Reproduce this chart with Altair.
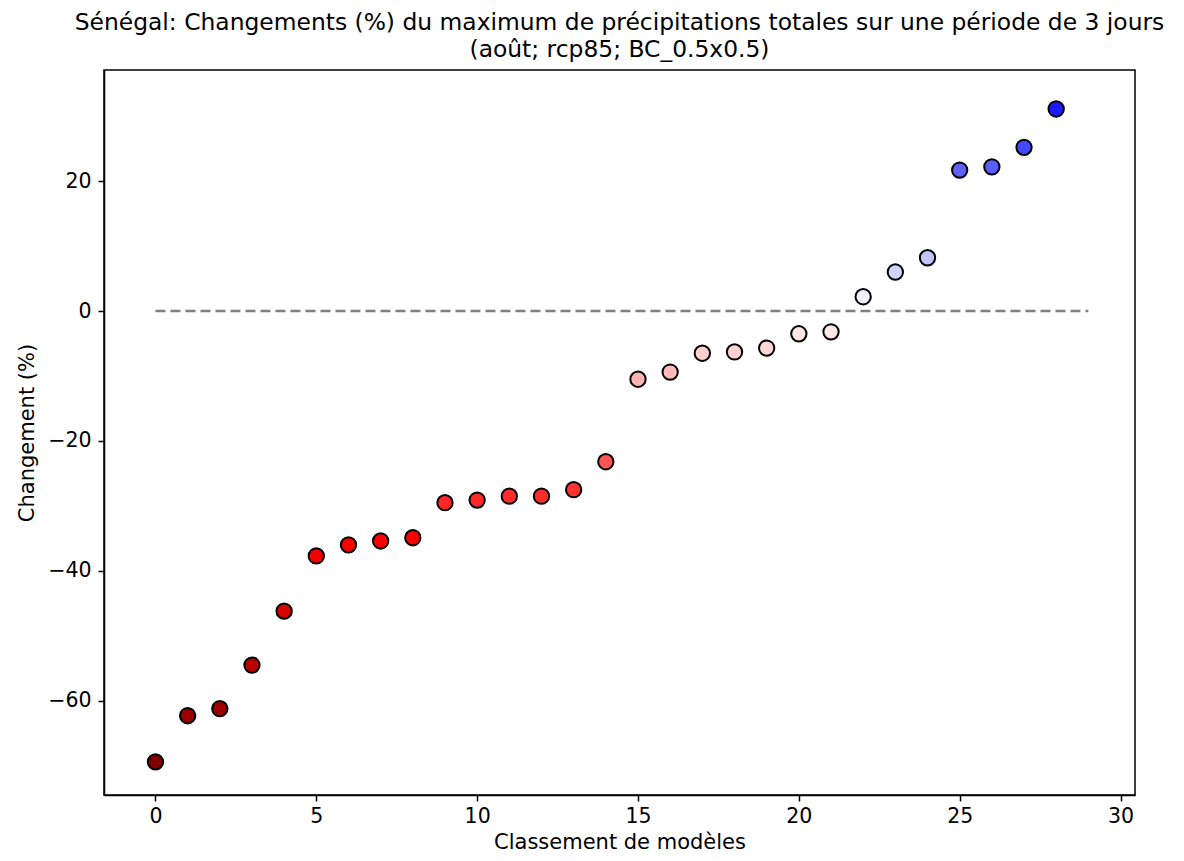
import altair as alt
import pandas as pd

rank = list(range(29))
change = [-69.4, -62.3, -61.2, -54.5, -46.2, -37.7, -36.0, -35.4, -34.9,
          -29.5, -29.1, -28.5, -28.5, -27.5, -23.2, -10.5, -9.4, -6.5,
          -6.3, -5.7, -3.5, -3.2, 2.2, 6.0, 8.2, 21.7, 22.2, 25.2, 31.1]
line_x = [0, 29]
line_y = [0, 0]

df = pd.DataFrame({"rank": rank, "change": change})
ldf = pd.DataFrame({"x": line_x, "y": line_y})

FONT = "DejaVu Sans"
vmax = 69.4

xscale = alt.Scale(domain=[-1.6, 30.45], nice=False, zero=False)
yscale = alt.Scale(domain=[-74.5, 37.1], nice=False, zero=False)

xaxis = alt.Axis(values=[0, 5, 10, 15, 20, 25, 30], title="Classement de modèles",
                 grid=False, tickColor="black", domainColor="black", tickSize=6,
                 labelFontSize=20.5, titleFontSize=21, labelFont=FONT, titleFont=FONT,
                 titleFontWeight="normal", labelColor="black", titleColor="black",
                 labelPadding=5, titlePadding=5, domainWidth=1.5, tickWidth=1.5)
yaxis = alt.Axis(values=[-60, -40, -20, 0, 20], title="Changement (%)",
                 grid=False, tickColor="black", domainColor="black", tickSize=6,
                 labelFontSize=20.5, titleFontSize=21, labelFont=FONT, titleFont=FONT,
                 titleFontWeight="normal", labelColor="black", titleColor="black",
                 labelPadding=7, titlePadding=10, domainWidth=1.5, tickWidth=1.5,
                 labelExpr="replace(datum.label, '-', '\u2212')")

line = alt.Chart(ldf).mark_line(color="#808080", strokeWidth=2.5, strokeDash=[10, 5]).encode(
    x=alt.X("x:Q", scale=xscale, axis=xaxis),
    y=alt.Y("y:Q", scale=yscale, axis=yaxis),
)

points = alt.Chart(df).mark_point(filled=True, size=235, stroke="black", strokeWidth=2,
                                  opacity=1, strokeOpacity=1).encode(
    x=alt.X("rank:Q", scale=xscale, axis=xaxis),
    y=alt.Y("change:Q", scale=yscale, axis=yaxis),
    color=alt.Color("change:Q", legend=None,
                    scale=alt.Scale(domain=[-vmax, -vmax / 2, 0, vmax / 2, vmax],
                                    range=["#800000", "#ff0000", "#ffffff", "#0000ff", "#00004d"],
                                    interpolate="rgb")),
)

chart = alt.layer(line, points).properties(
    width=1031, height=725,
    title=alt.Title(
        text=["Sénégal: Changements (%) du maximum de précipitations totales sur une période de 3 jours",
              "(août; rcp85; BC_0.5x0.5)"],
        fontSize=23.4, font=FONT, fontWeight="normal", color="black",
        anchor="middle", offset=8, lineHeight=27),
    autosize=alt.AutoSizeParams(type="none"),
    padding={"left": 96, "top": 62, "right": 41, "bottom": 58},
).configure_view(stroke="black", strokeWidth=1.5)

chart.save("out.html", embed_options={"renderer": "svg", "actions": False})
